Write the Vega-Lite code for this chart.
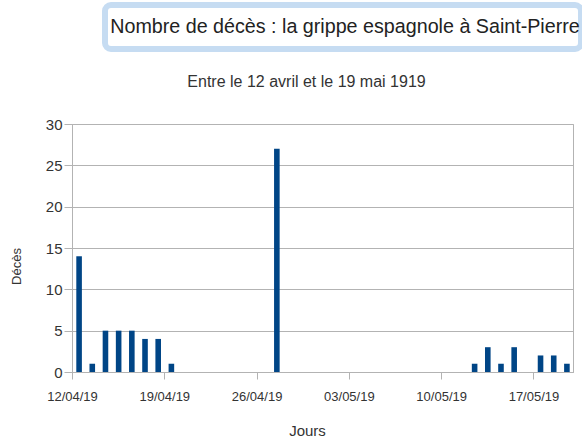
{
  "$schema": "https://vega.github.io/schema/vega-lite/v6.json",
  "padding": {"left": 9, "top": 2, "right": 0, "bottom": 0},
  "spacing": 21,
  "background": "white",
  "config": {
    "font": "Liberation Sans",
    "view": {"stroke": "#b3b3b3"}
  },
  "vconcat": [
    {
      "spacing": 0,
      "hconcat": [
        {
          "width": 30,
          "height": 44,
          "view": {"stroke": null, "fill": null},
          "data": {"values": []},
          "mark": {"type": "text"},
          "encoding": {}
        },
        {
          "width": 476,
          "height": 44,
          "view": {"fill": "white", "stroke": "#c6dcf2", "strokeWidth": 6, "cornerRadius": 6},
          "data": {"values": [{"t": "Nombre de décès : la grippe espagnole à Saint-Pierre"}]},
          "mark": {"type": "text", "font": "Liberation Sans", "fontSize": 19.7, "color": "#222", "dx": 2},
          "encoding": {
            "text": {"field": "t", "type": "nominal"}
          }
        }
      ]
    },
    {
      "width": 501,
      "height": 248,
      "title": {"text": "Entre le 12 avril et le 19 mai 1919", "font": "Liberation Sans", "fontSize": 16, "fontWeight": "normal", "color": "#333", "anchor": "middle", "dx": -16, "offset": 27},
      "data": {"values": [
        {"date": "1919-04-12", "deces": 14},
        {"date": "1919-04-13", "deces": 1},
        {"date": "1919-04-14", "deces": 5},
        {"date": "1919-04-15", "deces": 5},
        {"date": "1919-04-16", "deces": 5},
        {"date": "1919-04-17", "deces": 4},
        {"date": "1919-04-18", "deces": 4},
        {"date": "1919-04-19", "deces": 1},
        {"date": "1919-04-27", "deces": 27},
        {"date": "1919-05-12", "deces": 1},
        {"date": "1919-05-13", "deces": 3},
        {"date": "1919-05-14", "deces": 1},
        {"date": "1919-05-15", "deces": 3},
        {"date": "1919-05-17", "deces": 2},
        {"date": "1919-05-18", "deces": 2},
        {"date": "1919-05-19", "deces": 1}
      ]},
      "mark": {"type": "bar", "color": "#004586", "width": {"band": 0.5}},
      "encoding": {
        "x": {
          "field": "date", "type": "temporal", "timeUnit": "utcyearmonthdate",
          "scale": {"type": "utc", "domain": [{"year": 1919, "month": 4, "date": 12, "utc": true}, {"year": 1919, "month": 5, "date": 20, "utc": true}], "nice": false},
          "axis": {
            "title": "Jours", "titleFont": "Liberation Sans", "titleFontSize": 15, "titleFontWeight": "normal", "titleColor": "#333", "titlePadding": 20, "titleX": 235,
            "values": [
              {"year": 1919, "month": 4, "date": 12, "utc": true},
              {"year": 1919, "month": 4, "date": 19, "utc": true},
              {"year": 1919, "month": 4, "date": 26, "utc": true},
              {"year": 1919, "month": 5, "date": 3, "utc": true},
              {"year": 1919, "month": 5, "date": 10, "utc": true},
              {"year": 1919, "month": 5, "date": 17, "utc": true}
            ],
            "format": "%d/%m/%y",
            "labelFont": "Liberation Sans", "labelFontSize": 13, "labelColor": "#333", "labelPadding": 11, "labelFlush": false, "labelOverlap": false,
            "tickSize": 7, "tickColor": "#b3b3b3", "domainColor": "#b3b3b3", "grid": false
          }
        },
        "y": {
          "field": "deces", "type": "quantitative",
          "scale": {"domain": [0, 30], "nice": false},
          "axis": {
            "title": "Décès", "titleFont": "Liberation Sans", "titleFontSize": 13, "titleFontWeight": "normal", "titleColor": "#333", "titlePadding": 22, "titleY": 142,
            "values": [0, 5, 10, 15, 20, 25, 30],
            "labelFont": "Liberation Sans", "labelFontSize": 15, "labelColor": "#333", "labelPadding": 2,
            "tickSize": 8, "tickColor": "#b3b3b3", "domainColor": "#b3b3b3", "gridColor": "#b3b3b3", "grid": true
          }
        }
      }
    }
  ]
}
